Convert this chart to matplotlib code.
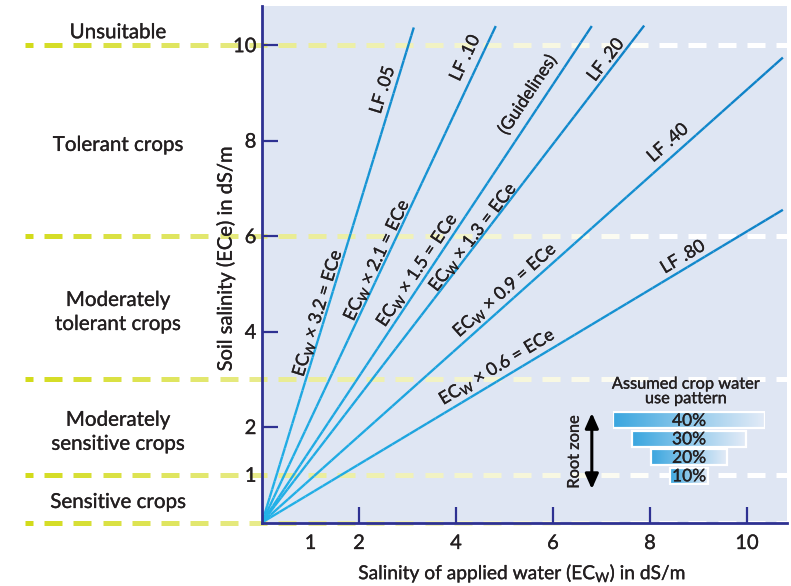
import numpy as np
import matplotlib.pyplot as plt
import matplotlib.patheffects as pe
from matplotlib.collections import LineCollection
from matplotlib.colors import LinearSegmentedColormap

plt.rcParams['font.family'] = ['Lato', 'DejaVu Sans']
plt.rcParams['mathtext.fontset'] = 'custom'
plt.rcParams['mathtext.rm'] = 'Lato'
plt.rcParams['mathtext.it'] = 'Lato:italic'

# ---data---
thresholds = [0, 1, 3, 6, 10]
zones = ['Sensitive crops', 'Moderately\nsensitive crops', 'Moderately\ntolerant crops',
         'Tolerant crops', 'Unsuitable']
zone_y = [0.43, 1.90, 4.41, 7.91, 10.27]

factors = ['3.2', '2.1', '1.5', '1.3', '0.9', '0.6']
lf_labels = ['LF .05', 'LF .10', '(Guidelines)', 'LF .20', 'LF .40', 'LF .80']
end_x = [3.13, 4.82, 6.80, 7.88, 10.74, 10.74]
end_y = [10.37, 10.40, 10.40, 10.41, 9.74, 6.55]
lf_pos = [(2.49, 9.06), (4.19, 9.73), (5.48, 8.96), (7.09, 9.69), (8.37, 7.95), (8.68, 5.56)]
eq_pos = [(1.15, 4.39), (2.37, 5.50), (3.20, 5.29), (4.35, 5.98), (5.01, 4.87), (4.85, 3.26)]

x_ticks = [2, 4, 6, 8, 10]
y_ticks = [2, 4, 6, 8, 10]
extra_tick = [1]

use_pct = [40, 30, 20, 10]

# ---styles---
NAVY = '#2e3192'
TXT = '#231f20'
BG = '#dfe6f3'
XMAX, YMAX = 10.825, 10.82
BOLDEN = [pe.withStroke(linewidth=0.22, foreground=TXT)]

fig = plt.figure(figsize=(7.91, 5.86), dpi=100)
ax = fig.add_axes([262 / 791, 1 - 522.5 / 586, 525 / 791, 516.5 / 586])
ax.set_facecolor(BG)
ax.set_xlim(0, XMAX)
ax.set_ylim(0, YMAX)


def dash_colors(xs):
    # yellow-green on the left fading to white on the right
    stops = [-4.89, 0, 3.88, 6.14, 8.2]
    r = np.interp(xs, stops, [210, 232, 242, 248, 255])
    g = np.interp(xs, stops, [219, 235, 243, 248, 255])
    b = np.interp(xs, stops, [25, 140, 200, 228, 255])
    return np.stack([r, g, b], axis=1) / 255


# zone boundaries, dashed
x0 = -4.89
starts = np.arange(x0 - 0.21, XMAX, 0.604)
for t in thresholds:
    segs = []
    mids = []
    for s in starts:
        a, b = max(s, x0), min(s + 0.371, XMAX)
        if b > a:
            segs.append([(a, t), (b, t)])
            mids.append((a + b) / 2)
    lc = LineCollection(segs, colors=dash_colors(np.array(mids)), linewidths=3.6,
                        capstyle='butt', clip_on=False, zorder=1)
    ax.add_collection(lc)

for name, y in zip(zones, zone_y):
    ax.text(-2.97, y, name, ha='center', va='center', fontsize=14.8, color=TXT,
            linespacing=1.25, clip_on=False, path_effects=BOLDEN)

# leaching fraction lines, bright at the origin and darker outward
c_lo = np.array([35, 178, 232]) / 255
c_hi = np.array([14, 128, 198]) / 255
for ex, ey in zip(end_x, end_y):
    n = 60
    xs = np.linspace(0, ex, n + 1)
    ys = np.linspace(0, ey, n + 1)
    segs = [[(xs[i], ys[i]), (xs[i + 1], ys[i + 1])] for i in range(n)]
    f = np.linspace(0, 1, n)[:, None] * min(1.0, np.hypot(ex * 48.5, ey * 47.7) / 620)
    ax.add_collection(LineCollection(segs, colors=c_lo + (c_hi - c_lo) * f,
                                     linewidths=1.7, capstyle='butt', zorder=2))


def angle_of(ex, ey):
    p0 = ax.transData.transform((0, 0))
    p1 = ax.transData.transform((ex, ey))
    return np.degrees(np.arctan2(p1[1] - p0[1], p1[0] - p0[0]))


for ex, ey, lf, (lx, ly), fac, (qx, qy) in zip(end_x, end_y, lf_labels, lf_pos, factors, eq_pos):
    rot = angle_of(ex, ey)
    ax.text(lx, ly, lf, rotation=rot, ha='center', va='center', rotation_mode='anchor',
            fontsize=12.8, color=TXT, zorder=3, path_effects=BOLDEN)
    ax.text(qx, qy, 'EC$_\\mathrm{W}$ \u00d7 ' + fac + ' = ECe', rotation=rot, ha='center',
            va='center', rotation_mode='anchor', fontsize=12.8, color=TXT, zorder=3,
            path_effects=BOLDEN)

# axes
for side in ['top', 'right']:
    ax.spines[side].set_visible(False)
for side in ['left', 'bottom']:
    ax.spines[side].set_color(NAVY)
    ax.spines[side].set_linewidth(2)
    ax.spines[side].set_zorder(2.5)

ax.set_xticks(x_ticks)
ax.set_yticks(y_ticks)
ax.set_xticks(extra_tick, minor=True)
ax.set_yticks(extra_tick, minor=True)
ax.set_xticklabels([str(v) for v in x_ticks])
ax.set_yticklabels([str(v) for v in y_ticks])
ax.set_xticklabels([str(v) for v in extra_tick], minor=True)
ax.set_yticklabels([str(v) for v in extra_tick], minor=True)
ax.tick_params(which='major', direction='in', length=11.5, width=1.6, color=NAVY,
               labelsize=14.5, labelcolor=TXT)
ax.tick_params(which='minor', length=0, labelsize=14.5, labelcolor=TXT)
ax.tick_params(axis='x', which='both', pad=9)
ax.tick_params(axis='y', which='both', pad=4)
for lab in ax.get_xticklabels(which='both') + ax.get_yticklabels(which='both'):
    lab.set_path_effects(BOLDEN)

ax.set_xlabel('Salinity of applied water (EC$_\\mathrm{W}$) in dS/m', fontsize=13.8, color=TXT,
              path_effects=BOLDEN)
ax.set_ylabel('Soil salinity (ECe) in dS/m', fontsize=14.5, color=TXT, path_effects=BOLDEN)
ax.xaxis.set_label_coords(0.495, -0.075)
ax.yaxis.set_label_coords(-0.052, 0.51)

# water use pattern inset
ins = fig.add_axes([613 / 791, 1 - 485 / 586, 152 / 791, 74 / 586])
ins.axis('off')
grad = np.linspace(0, 1, 256).reshape(1, -1)
cmap = LinearSegmentedColormap.from_list('use', ['#3aa6df', '#e3ebf7'])
rows = np.arange(len(use_pct))
bars = ins.barh(rows, use_pct, left=[-p / 2 for p in use_pct], height=0.89,
                color='none', edgecolor='white', linewidth=1.6, zorder=2)
for i, (b, p) in enumerate(zip(bars, use_pct)):
    im = ins.imshow(grad, cmap=cmap, aspect='auto', zorder=1,
                    extent=[b.get_x(), b.get_x() + b.get_width(),
                            b.get_y() + b.get_height(), b.get_y()])
    im.set_clip_path(b)
    ins.text(0, i + 0.03, f'{p}%', ha='center', va='center', fontsize=12.5, color=TXT,
             zorder=3, path_effects=BOLDEN)
ins.set_xlim(-20.1, 20.1)
ins.set_ylim(3.5, -0.5)
ins.text(-0.8, -1.53, 'Assumed crop water\nuse pattern', ha='center', va='center',
         fontsize=11.8, color=TXT, linespacing=1.05, clip_on=False, path_effects=BOLDEN)
ins.annotate('', xy=(-25.7, -0.39), xytext=(-25.7, 3.72), annotation_clip=False,
             arrowprops=dict(arrowstyle='<|-|>,head_length=0.9,head_width=0.4',
                             color='black', lw=2.2, shrinkA=0, shrinkB=0))
ins.text(-30.2, 1.72, 'Root zone', rotation=90, ha='center', va='center',
         fontsize=11.8, color=TXT, clip_on=False, path_effects=BOLDEN)

plt.savefig('out.png', dpi=100)
